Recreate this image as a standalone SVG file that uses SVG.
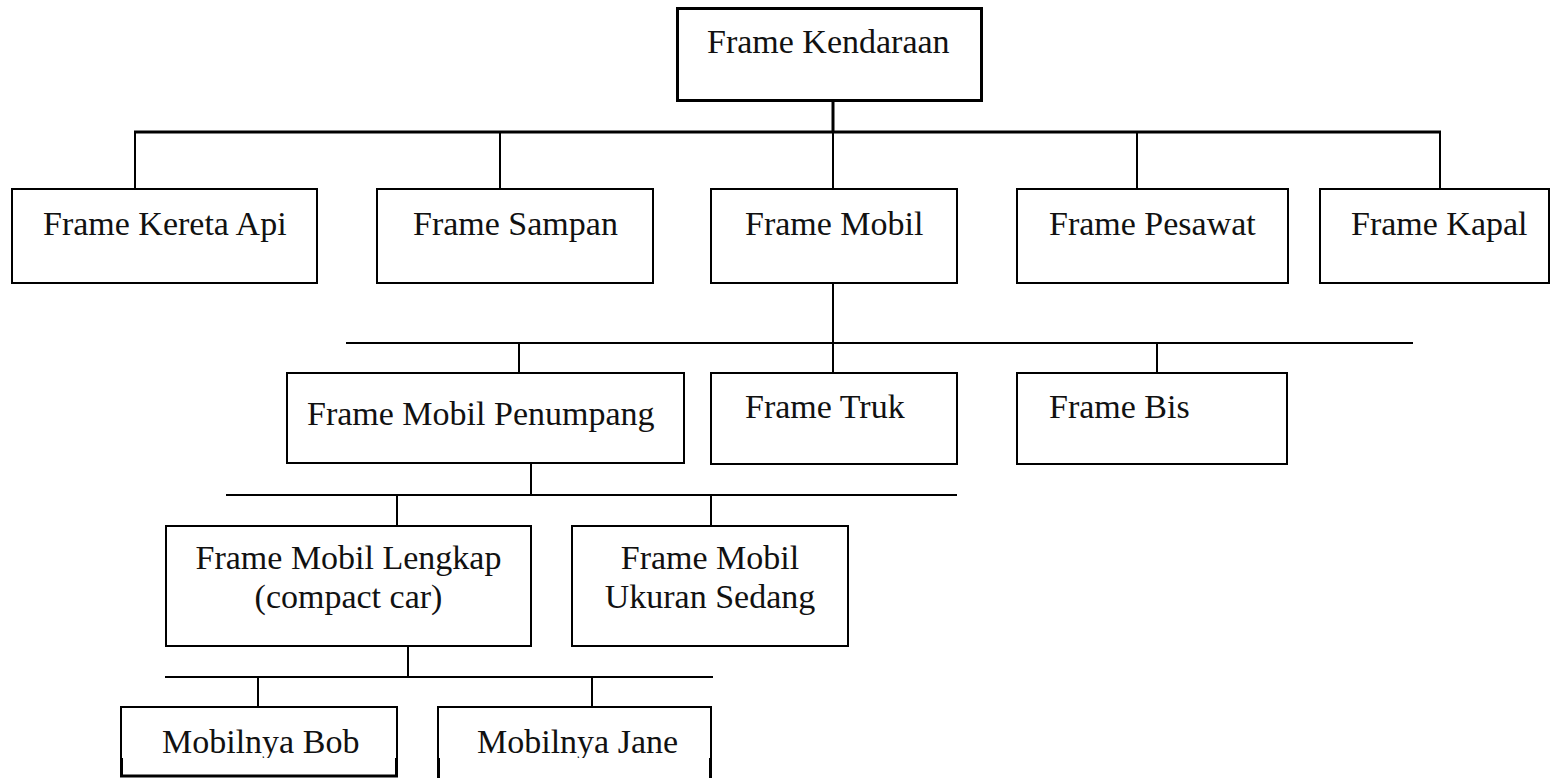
<svg xmlns="http://www.w3.org/2000/svg" width="1551" height="778" viewBox="0 0 1551 778">
<defs>
<style>
.box{fill:#fff;stroke:#000;stroke-width:2}
.top{fill:#fff;stroke:#000;stroke-width:3}
.t{font-family:"Liberation Serif","Times New Roman",serif;font-size:34px;fill:#111}
.c{text-anchor:middle}
.ln{stroke:#000;stroke-width:2;fill:none}
.lt{stroke:#000;stroke-width:3;fill:none}
</style>
<clipPath id="cut"><rect x="0" y="0" width="1551" height="758"/></clipPath>
</defs>
<rect width="1551" height="778" fill="#fff"/>
<g id="connectors">
<line class="lt" x1="833" y1="101" x2="833" y2="132"/>
<line class="lt" x1="134" y1="132" x2="1441" y2="132"/>
<line class="ln" x1="135" y1="132" x2="135" y2="189"/>
<line class="ln" x1="500" y1="132" x2="500" y2="189"/>
<line class="ln" x1="833" y1="132" x2="833" y2="189"/>
<line class="ln" x1="1137" y1="132" x2="1137" y2="189"/>
<line class="ln" x1="1440" y1="132" x2="1440" y2="189"/>
<line class="ln" x1="833" y1="283" x2="833" y2="373"/>
<line class="ln" x1="346" y1="343" x2="1413" y2="343"/>
<line class="ln" x1="519" y1="343" x2="519" y2="373"/>
<line class="ln" x1="1157" y1="343" x2="1157" y2="373"/>
<line class="ln" x1="531" y1="463" x2="531" y2="495"/>
<line class="ln" x1="226" y1="495" x2="957" y2="495"/>
<line class="ln" x1="397" y1="495" x2="397" y2="526"/>
<line class="ln" x1="711" y1="495" x2="711" y2="526"/>
<line class="ln" x1="408" y1="646" x2="408" y2="677"/>
<line class="ln" x1="165" y1="677" x2="713" y2="677"/>
<line class="ln" x1="258" y1="677" x2="258" y2="707"/>
<line class="ln" x1="592" y1="677" x2="592" y2="707"/>
</g>
<g id="n-kendaraan"><rect class="top" x="677.5" y="8.5" width="304" height="92"/><text class="t" x="707" y="53">Frame Kendaraan</text></g>
<g id="n-kereta"><rect class="box" x="12" y="189" width="305" height="94"/><text class="t" x="43" y="235">Frame Kereta Api</text></g>
<g id="n-sampan"><rect class="box" x="377" y="189" width="276" height="94"/><text class="t" x="413" y="235">Frame Sampan</text></g>
<g id="n-mobil"><rect class="box" x="711" y="189" width="246" height="94"/><text class="t" x="745" y="235">Frame Mobil</text></g>
<g id="n-pesawat"><rect class="box" x="1017" y="189" width="271" height="94"/><text class="t" x="1049" y="235">Frame Pesawat</text></g>
<g id="n-kapal"><rect class="box" x="1320" y="189" width="229" height="94"/><text class="t" x="1351" y="235">Frame Kapal</text></g>
<g id="n-penumpang"><rect class="box" x="287" y="373" width="397" height="90"/><text class="t" x="307" y="425">Frame Mobil Penumpang</text></g>
<g id="n-truk"><rect class="box" x="711" y="373" width="246" height="91"/><text class="t" x="745" y="418">Frame Truk</text></g>
<g id="n-bis"><rect class="box" x="1017" y="373" width="270" height="91"/><text class="t" x="1049" y="418">Frame Bis</text></g>
<g id="n-lengkap"><rect class="box" x="166" y="526" width="365" height="120"/><text class="t c" x="348.5" y="569">Frame Mobil Lengkap</text><text class="t c" x="348.5" y="608">(compact car)</text></g>
<g id="n-ukuran"><rect class="box" x="572" y="526" width="276" height="120"/><text class="t c" x="710" y="569">Frame Mobil</text><text class="t c" x="710" y="608">Ukuran Sedang</text></g>
<g id="n-bob">
<path class="ln" d="M121,758 V707 H397 V758"/>
<path class="lt" d="M121.5,758 V776 H396.5 V758"/>
<text class="t" x="162" y="753" clip-path="url(#cut)">Mobilnya Bob</text>
</g>
<g id="n-jane">
<path class="ln" d="M438,758 V707 H711 V758"/>
<path class="lt" d="M438.5,758 V778 M710.5,758 V778"/>
<text class="t" x="477" y="753" clip-path="url(#cut)">Mobilnya Jane</text>
</g>
</svg>
